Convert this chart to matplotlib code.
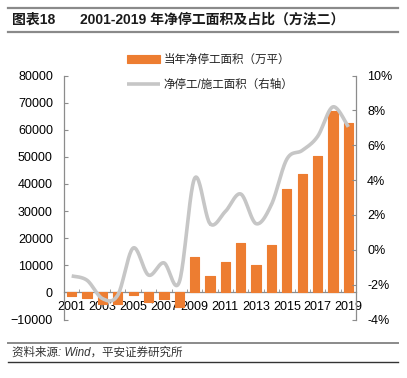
import matplotlib.pyplot as plt
from matplotlib.lines import Line2D
import numpy as np

# --- Datos ---
years = list(range(2001, 2020))
area = [-1400, -2000, -4300, -4400, -800, -3700, -2600, -5500, 13000, 6200,
        11200, 18200, 10000, 17300, 38000, 43800, 50200, 66900, 62500]
ratio = [-1.5, -1.75, -2.8, -2.6, 0.1, -1.45, -0.75, -1.85, 4.1, 1.5,
         2.2, 3.2, 1.5, 2.6, 5.2, 5.7, 6.5, 8.2, 7.05]

bar_label = "当年净停工面积（万平）"
line_label = "净停工/施工面积（右轴）"
title_left = "图表18"
title_right = "2001-2019 年净停工面积及占比（方法二）"
source = "资料来源: Wind，平安证券研究所"

ORANGE = "#ED7D31"
GRAY_LINE = "#C6C6C6"
AXIS_GRAY = "#8C8C8C"
FONTS = ["Liberation Sans", "Noto Sans CJK SC", "DejaVu Sans"]
plt.rcParams["font.family"] = FONTS


def smooth(x, y, n=24):
    # curva suavizada tipo Catmull-Rom (como la linea suavizada de Excel)
    x = np.asarray(x, float)
    y = np.asarray(y, float)
    px = np.concatenate([[x[0]], x, [x[-1]]])
    py = np.concatenate([[y[0]], y, [y[-1]]])
    t = np.linspace(0, 1, n)[:, None]
    xs, ys = [], []
    for i in range(1, len(px) - 2):
        for P, out in ((px, xs), (py, ys)):
            p0, p1, p2, p3 = P[i - 1], P[i], P[i + 1], P[i + 2]
            c = 0.5 * ((2 * p1) + (-p0 + p2) * t + (2 * p0 - 5 * p1 + 4 * p2 - p3) * t ** 2
                       + (-p0 + 3 * p1 - 3 * p2 + p3) * t ** 3)
            out.append(c.ravel())
    return np.concatenate(xs), np.concatenate(ys)


x = np.arange(len(years))

fig = plt.figure(figsize=(4.07, 3.78), dpi=100)
ax = fig.add_axes([64 / 407, 1 - 319.5 / 378, 292 / 407, 244 / 378])
ax2 = ax.twinx()

# barras por encima de las etiquetas del eje x, como en el original
ax.bar(x, area, width=0.6, color=ORANGE, edgecolor=ORANGE, linewidth=0.8,
       joinstyle="round", label=bar_label, zorder=3)
sx, sy = smooth(x, ratio)
ax2.plot(sx, sy, color=GRAY_LINE, lw=2.6, solid_capstyle="butt", label=line_label)

# --- Ejes ---
ax.set_xlim(-0.5, len(years) - 0.5)
ax.set_ylim(-10000, 80000)
ax.set_yticks(range(-10000, 80001, 10000))
ax2.set_ylim(-4, 10)
ax2.set_yticks(range(-4, 11, 2))
ax2.set_yticklabels([f"{v}%" for v in range(-4, 11, 2)])

ax.set_xticks(x[::2])
ax.set_xticklabels([str(y) for y in years[::2]])
ax.set_xticks(np.arange(0.5, len(years) - 1, 1), minor=True)

for s in ["top", "right"]:
    ax.spines[s].set_visible(False)
for s in ["top", "left", "bottom"]:
    ax2.spines[s].set_visible(False)
ax.spines["bottom"].set_position(("data", 0))
for sp in [ax.spines["left"], ax.spines["bottom"], ax2.spines["right"]]:
    sp.set_color(AXIS_GRAY)
    sp.set_linewidth(0.9)

ax.tick_params(axis="y", direction="in", length=3, color=AXIS_GRAY, labelsize=9, pad=8)
ax2.tick_params(axis="y", direction="in", length=3, color=AXIS_GRAY, labelsize=9, pad=8)
ax.tick_params(axis="x", which="major", length=0, labelsize=9, pad=6)
ax.tick_params(axis="x", which="minor", direction="in", length=2.5, color=AXIS_GRAY)

# --- Leyenda ---
h1, l1 = ax.get_legend_handles_labels()
h2, l2 = ax2.get_legend_handles_labels()
leg = ax2.legend(h1 + h2, l1 + l2, loc="upper left",
                 bbox_to_anchor=(127 / 407, 1 - 54 / 378), bbox_transform=fig.transFigure,
                 frameon=False, fontsize=8.3, handlelength=2.9, handletextpad=0.25,
                 labelspacing=1.15, borderpad=0, borderaxespad=0)
for t in leg.get_texts():
    t.set_color("#222222")

# --- Titulo y fuente ---
fig.text(12 / 407, 1 - 19.5 / 378, title_left, fontsize=10, fontweight="bold",
         va="center", ha="left", color="#1a1a1a")
fig.text(80 / 407, 1 - 19.5 / 378, title_right, fontsize=10, fontweight="bold",
         va="center", ha="left", color="#1a1a1a")
fig.text(12 / 407, 1 - 352.5 / 378, source, fontsize=8.3, style="italic",
         va="center", ha="left", color="#333333")

for ypx, col, lw in [(7.5, "#8a8a8a", 1.6), (32, "#8a8a8a", 1.6),
                     (343, "#8a8a8a", 1.4), (362, "#333333", 1.0)]:
    fig.add_artist(Line2D([8 / 407, 398 / 407], [1 - ypx / 378] * 2,
                          transform=fig.transFigure, color=col, lw=lw))

fig.savefig("out.png", dpi=100)
